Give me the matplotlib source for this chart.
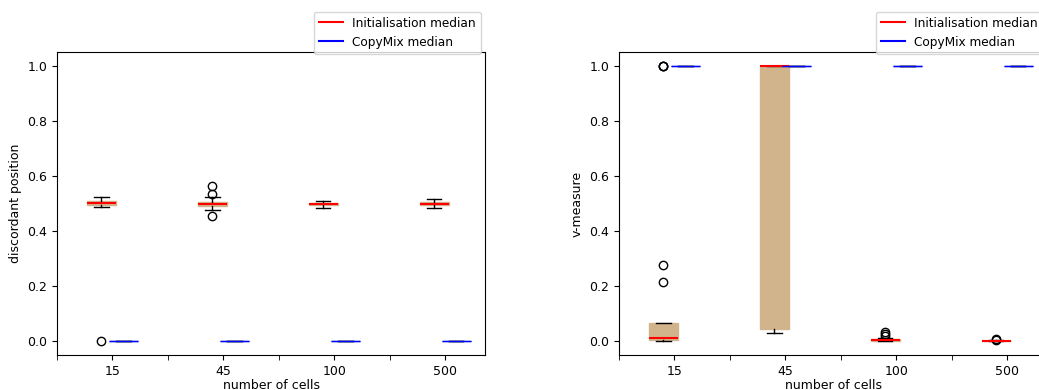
import matplotlib
matplotlib.use("Agg")
import matplotlib.pyplot as plt
from matplotlib.lines import Line2D

cells = ["15", "45", "100", "500"]

# discordant position, initialisation: q1, median, q3, whisker low, whisker high
disc_init_q1 = [0.495, 0.490, 0.493, 0.495]
disc_init_med = [0.502, 0.497, 0.498, 0.500]
disc_init_q3 = [0.508, 0.505, 0.503, 0.506]
disc_init_lo = [0.488, 0.475, 0.485, 0.485]
disc_init_hi = [0.525, 0.525, 0.510, 0.515]
disc_init_fliers = [[0.0], [0.455, 0.535, 0.565], [], []]

disc_cm_med = [0.0, 0.0, 0.0, 0.0]

# v-measure, initialisation
vm_init_q1 = [0.003, 0.045, 0.0, 0.0]
vm_init_med = [0.010, 1.0, 0.004, 0.0]
vm_init_q3 = [0.068, 1.0, 0.007, 0.002]
vm_init_lo = [0.0, 0.030, 0.0, 0.0]
vm_init_hi = [0.068, 1.0, 0.010, 0.003]
vm_init_fliers = [[0.215, 0.275, 1.0, 1.0, 1.0], [], [0.018, 0.028, 0.035], [0.005, 0.008]]

vm_cm_med = [1.0, 1.0, 1.0, 1.0]


def stats(q1, med, q3, lo, hi, fl):
    return [dict(q1=a, med=b, q3=c, whislo=d, whishi=e, fliers=f)
            for a, b, c, d, e, f in zip(q1, med, q3, lo, hi, fl)]


def draw(ax, init_stats, cm_vals, ylabel):
    pos = range(1, len(cells) + 1)
    ax.bxp(init_stats, positions=[p - 0.1 for p in pos], widths=0.26,
           patch_artist=True, manage_ticks=False,
           boxprops=dict(facecolor="tan", edgecolor="tan"),
           medianprops=dict(color="red", linewidth=1.5),
           flierprops=dict(marker="o", markerfacecolor="none",
                           markeredgecolor="black", markersize=6))
    cm_stats = stats(cm_vals, cm_vals, cm_vals, cm_vals, cm_vals, [[]] * 4)
    ax.bxp(cm_stats, positions=[p + 0.1 for p in pos], widths=0.26,
           patch_artist=True, manage_ticks=False,
           boxprops=dict(facecolor="lightblue", edgecolor="royalblue"),
           medianprops=dict(color="blue", linewidth=1.0))
    ax.set_xlim(0.5, 4.36)
    ax.set_ylim(-0.05, 1.05)
    ax.set_xticks(list(pos))
    ax.set_xticklabels(cells)
    ax.set_xticks([0.5, 1.5, 2.5, 3.5], minor=True)
    ax.tick_params(axis="x", which="minor", length=3.5)
    ax.set_xlabel("number of cells", labelpad=1)
    ax.set_ylabel(ylabel)
    handles = [Line2D([], [], color="red"), Line2D([], [], color="blue")]
    ax.legend(handles, ["Initialisation median", "CopyMix median"],
              loc="lower right", bbox_to_anchor=(0.99, 0.995), borderaxespad=0,
              fontsize=8.7)


plt.rcParams["font.size"] = 9
fig = plt.figure(figsize=(10.39, 3.9), dpi=100)
ax1 = fig.add_axes([0.0549, 0.0897, 0.412, 0.777])
ax2 = fig.add_axes([0.5958, 0.0897, 0.412, 0.777])

draw(ax1, stats(disc_init_q1, disc_init_med, disc_init_q3, disc_init_lo,
                disc_init_hi, disc_init_fliers), disc_cm_med, "discordant position")
draw(ax2, stats(vm_init_q1, vm_init_med, vm_init_q3, vm_init_lo,
                vm_init_hi, vm_init_fliers), vm_cm_med, "v-measure")

fig.savefig("out.png", dpi=100)
